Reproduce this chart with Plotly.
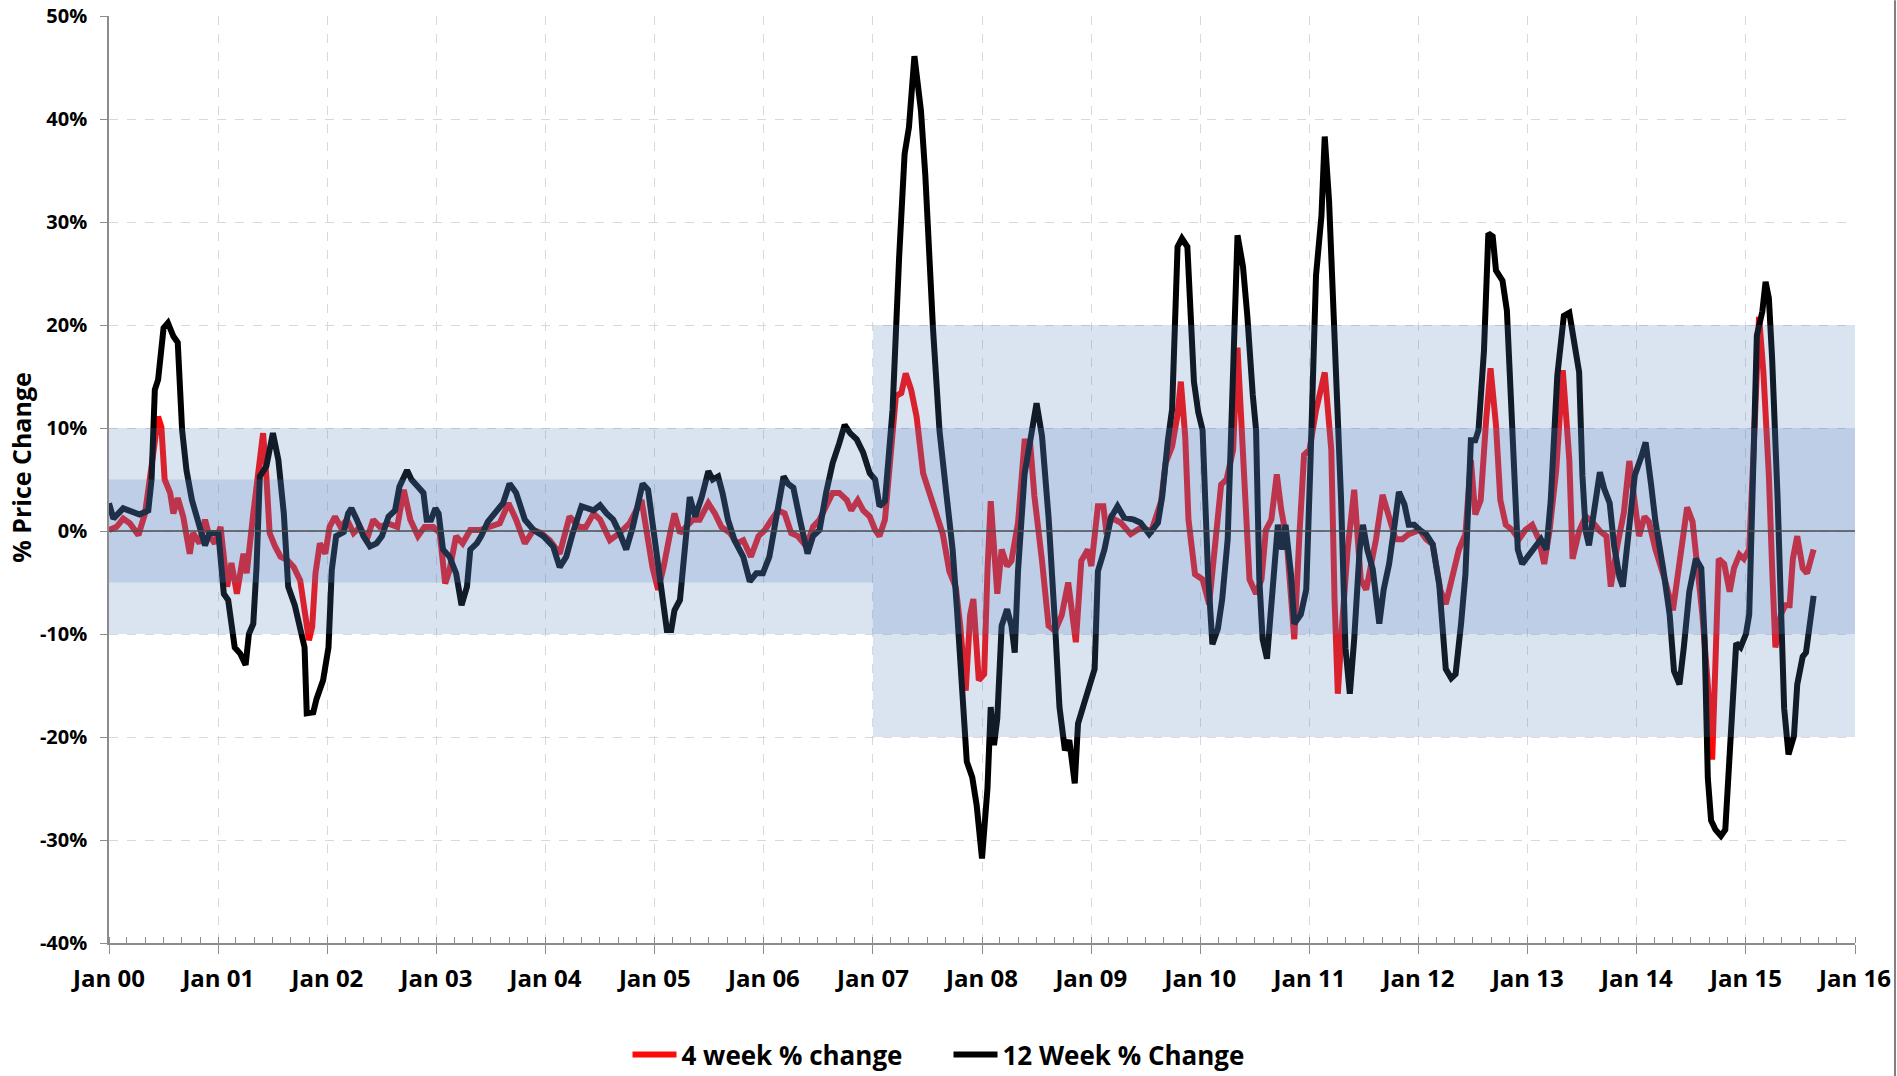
import datetime as dt
import plotly.graph_objects as go

# ---------------- data ----------------
# decimal years (2000.0 = Jan 2000) and % change values
week4_t = [0.00,0.07,0.13,0.19,0.27,0.33,0.39,0.45,0.48,0.51,0.56,0.59,0.63,0.68,0.74,0.77,0.83,0.88,0.92,0.97,
           1.02,1.08,1.12,1.17,1.23,1.26,1.32,1.37,1.41,1.44,1.47,1.52,1.57,1.63,1.69,1.75,1.79,1.83,1.86,1.89,
           1.93,1.98,2.02,2.07,2.12,2.18,2.24,2.30,2.36,2.42,2.48,2.56,2.64,2.70,2.76,2.83,2.89,2.97,3.03,3.08,
           3.12,3.18,3.24,3.31,3.40,3.49,3.58,3.66,3.73,3.81,3.89,3.96,4.04,4.13,4.22,4.31,4.37,4.44,4.50,4.59,
           4.68,4.77,4.88,4.94,4.98,5.03,5.08,5.14,5.18,5.23,5.29,5.35,5.41,5.49,5.55,5.61,5.69,5.75,5.81,5.88,
           5.95,6.01,6.07,6.13,6.19,6.25,6.31,6.39,6.45,6.51,6.57,6.63,6.69,6.76,6.80,6.86,6.91,6.97,7.02,7.06,
           7.11,7.15,7.21,7.26,7.30,7.35,7.40,7.46,7.52,7.60,7.64,7.70,7.76,7.80,7.85,7.89,7.92,7.97,8.02,8.05,
           8.08,8.14,8.18,8.23,8.27,8.33,8.39,8.44,8.48,8.55,8.61,8.67,8.73,8.79,8.82,8.86,8.91,8.97,9.00,9.06,
           9.11,9.14,9.18,9.27,9.36,9.45,9.55,9.64,9.68,9.74,9.79,9.82,9.86,9.89,9.95,10.02,10.08,10.14,10.19,10.24,
           10.30,10.34,10.40,10.45,10.51,10.56,10.60,10.65,10.70,10.74,10.79,10.83,10.86,10.91,10.95,11.00,11.06,11.14,11.20,11.23,
           11.26,11.30,11.35,11.41,11.47,11.52,11.56,11.61,11.67,11.73,11.79,11.85,11.91,12.01,12.07,12.13,12.20,12.25,12.31,12.37,
           12.43,12.48,12.52,12.57,12.62,12.66,12.71,12.75,12.80,12.86,12.92,12.98,13.04,13.10,13.15,13.20,13.26,13.32,13.38,13.41,
           13.47,13.53,13.59,13.66,13.72,13.76,13.82,13.88,13.93,13.98,14.02,14.07,14.11,14.17,14.25,14.33,14.37,14.42,14.46,14.51,
           14.56,14.60,14.65,14.69,14.72,14.75,14.80,14.85,14.89,14.94,14.98,15.03,15.07,15.12,15.16,15.21,15.24,15.27,15.32,15.36,
           15.40,15.43,15.47,15.52,15.56,15.62]
week4_v = [0.1,0.4,1.2,0.75,-0.4,1.7,6.3,11.1,10.1,5.0,3.7,1.7,3.2,1.4,-2.2,-0.2,-1.2,1.1,-0.5,-1.2,
           0.4,-5.4,-3.1,-6.1,-2.2,-4.1,1.7,5.6,9.5,5.3,-0.2,-1.5,-2.5,-2.8,-3.5,-4.8,-7.4,-10.6,-9.3,-4.1,
           -1.2,-2.2,0.4,1.4,0.4,1.1,-0.2,0.4,-0.9,1.1,0.4,0.7,0.4,4.0,1.1,-0.5,0.4,0.4,-0.2,-5.1,
           -3.8,-0.5,-1.2,0.1,0.1,0.4,0.75,2.7,1.1,-1.2,0.1,-0.2,-0.9,-2.2,1.4,0.4,0.4,1.7,1.1,-0.9,
           -0.2,0.75,3.0,-0.9,-3.5,-5.7,-3.5,-0.2,1.7,-0.2,0.4,1.1,1.1,2.7,1.7,0.4,-0.2,-1.2,-0.9,-2.5,
           -0.5,0.1,1.1,2.0,1.7,-0.2,-0.5,-1.5,0.4,1.1,2.4,3.7,3.7,3.0,2.0,3.0,2.0,1.4,0.1,-0.5,
           1.1,6.3,13.1,13.4,15.3,13.7,11.1,5.6,3.7,1.4,-0.3,-3.9,-5.5,-9.2,-15.5,-8.2,-6.6,-14.5,-13.9,-3.9,
           2.9,-6.1,-1.8,-3.4,-2.9,0.8,8.7,8.7,3.4,-2.9,-9.2,-9.7,-8.2,-5.0,-7.6,-10.8,-2.9,-1.8,-3.4,2.4,
           2.4,-0.3,1.3,0.8,-0.3,0.3,0.0,2.9,6.6,8.2,11.3,14.5,9.2,1.1,-4.2,-4.7,-7.1,-0.3,4.5,5.0,
           7.9,17.8,5.0,-4.7,-6.1,-4.7,0.1,1.1,5.5,2.1,-0.8,-6.6,-10.5,0.1,7.4,7.9,11.7,15.4,7.9,-6.6,
           -15.8,-9.0,-1.8,4.0,-4.7,-5.7,-3.7,-0.8,3.5,1.1,-0.8,-0.8,-0.3,0.1,-0.8,-1.3,-5.7,-7.1,-4.7,-1.8,
           -0.3,6.9,1.6,3.0,10.8,15.8,10.3,3.0,0.6,0.1,-0.8,0.1,0.6,-0.8,-3.2,0.1,5.9,15.6,6.9,-2.7,
           0.0,1.4,0.9,0.0,-0.5,-5.4,-1.4,1.8,6.8,3.2,-0.5,1.4,0.9,-1.8,-4.5,-7.7,-4.5,-0.5,2.3,0.9,
           -3.6,-8.1,-14.9,-22.2,-12.7,-2.7,-3.2,-5.9,-3.6,-2.3,-2.7,-1.8,7.7,20.8,15.4,5.4,-3.6,-11.3,-8.1,-7.2,
           -7.2,-2.7,-0.5,-3.6,-4.1,-1.8]

week12_t = [0.00,0.04,0.13,0.22,0.28,0.36,0.39,0.42,0.45,0.50,0.54,0.59,0.63,0.67,0.71,0.76,0.80,0.85,0.88,0.92,
            1.00,1.05,1.09,1.15,1.20,1.25,1.28,1.32,1.35,1.38,1.44,1.50,1.55,1.60,1.64,1.70,1.75,1.79,1.81,1.87,
            1.90,1.96,2.01,2.04,2.08,2.15,2.19,2.22,2.27,2.33,2.39,2.45,2.50,2.56,2.62,2.66,2.73,2.77,2.83,2.88,
            2.91,2.95,2.99,3.02,3.06,3.12,3.18,3.23,3.28,3.31,3.37,3.41,3.47,3.55,3.61,3.67,3.73,3.81,3.89,3.98,
            4.07,4.13,4.19,4.25,4.33,4.44,4.50,4.56,4.62,4.68,4.74,4.80,4.89,4.94,5.00,5.06,5.11,5.15,5.18,5.23,
            5.26,5.32,5.37,5.43,5.49,5.53,5.58,5.62,5.67,5.73,5.81,5.87,5.93,5.99,6.05,6.11,6.18,6.22,6.27,6.33,
            6.40,6.45,6.51,6.57,6.63,6.69,6.74,6.79,6.85,6.91,6.97,7.02,7.06,7.11,7.18,7.24,7.29,7.33,7.38,7.44,
            7.48,7.55,7.61,7.67,7.73,7.77,7.82,7.86,7.91,7.95,8.00,8.05,8.08,8.11,8.14,8.18,8.23,8.27,8.30,8.33,
            8.39,8.45,8.50,8.55,8.61,8.67,8.71,8.76,8.80,8.85,8.88,8.94,8.98,9.03,9.06,9.12,9.18,9.24,9.30,9.39,
            9.45,9.53,9.61,9.65,9.70,9.74,9.79,9.83,9.88,9.91,9.94,9.98,10.02,10.07,10.11,10.16,10.20,10.25,10.30,10.34,
            10.39,10.43,10.48,10.51,10.54,10.57,10.61,10.65,10.71,10.75,10.78,10.83,10.86,10.92,10.97,11.01,11.06,11.11,11.14,11.18,
            11.24,11.29,11.33,11.37,11.41,11.46,11.49,11.53,11.58,11.64,11.68,11.73,11.78,11.82,11.87,11.91,11.96,12.01,12.07,12.13,
            12.19,12.25,12.30,12.34,12.39,12.43,12.48,12.52,12.55,12.60,12.64,12.68,12.71,12.77,12.81,12.86,12.91,12.95,13.01,13.07,
            13.12,13.17,13.21,13.27,13.33,13.38,13.43,13.47,13.50,13.53,13.56,13.61,13.66,13.70,13.75,13.79,13.84,13.87,13.91,13.98,
            14.04,14.08,14.13,14.17,14.24,14.30,14.34,14.39,14.43,14.48,14.54,14.59,14.62,14.65,14.68,14.72,14.77,14.81,14.85,14.88,
            14.91,14.95,15.00,15.03,15.06,15.10,15.15,15.18,15.21,15.24,15.29,15.32,15.35,15.39,15.44,15.47,15.52,15.55,15.59,15.62]
week12_v = [2.7,1.2,2.2,1.9,1.6,2.0,5.0,13.7,14.7,19.7,20.2,18.9,18.3,9.8,5.9,3.0,1.4,-0.5,-1.4,-0.2,
            -0.2,-6.1,-6.7,-11.3,-11.9,-13.0,-10.0,-9.0,-3.5,5.3,6.3,9.5,6.9,1.7,-5.4,-7.2,-9.6,-11.3,-17.7,-17.6,
            -16.3,-14.5,-11.3,-3.8,-0.5,-0.1,1.7,2.2,1.1,-0.5,-1.5,-1.2,-0.5,1.4,2.0,4.3,5.9,5.0,4.3,3.7,
            1.1,1.1,2.2,1.7,-1.8,-2.5,-4.1,-7.2,-5.4,-1.8,-1.2,-0.5,0.9,2.0,2.7,4.6,3.7,1.1,0.1,-0.5,
            -1.5,-3.5,-2.5,-0.2,2.4,2.0,2.5,1.7,1.1,-0.2,-1.8,0.4,4.6,4.0,-0.9,-5.4,-9.6,-9.6,-7.7,-6.7,
            -3.1,3.3,1.4,3.3,5.8,5.0,5.3,3.7,1.1,-0.9,-2.5,-4.9,-4.1,-4.1,-2.5,1.1,5.3,4.6,4.2,1.1,
            -2.2,-0.5,0.1,3.7,6.6,8.5,10.3,9.5,8.9,7.6,5.6,5.0,2.4,2.9,11.8,26.6,36.6,39.2,46.1,40.8,
            34.5,19.7,9.7,3.9,-1.8,-7.6,-16.1,-22.4,-23.9,-26.6,-31.8,-25.0,-17.1,-20.8,-18.2,-9.2,-7.6,-9.2,-11.8,-3.9,
            5.5,9.7,12.4,9.2,1.3,-9.2,-17.1,-21.3,-20.3,-24.5,-18.7,-16.6,-15.0,-13.4,-3.9,-1.8,1.3,2.4,1.3,1.1,
            0.8,-0.3,0.8,3.4,8.7,11.8,27.6,28.4,27.6,19.2,14.5,11.5,9.8,-4.2,-11.0,-9.5,-6.6,-0.8,14.6,28.7,
            25.7,20.9,13.2,9.8,-4.7,-10.5,-12.4,-6.6,0.6,-1.8,0.6,-4.2,-9.0,-8.1,-5.7,6.9,24.8,30.6,38.3,32.0,
            17.5,3.0,-11.4,-15.8,-10.5,-1.8,0.6,-1.8,-3.7,-9.0,-5.7,-3.2,0.6,3.8,2.6,0.6,0.6,0.1,-0.3,-1.3,
            -5.2,-13.4,-14.3,-13.9,-9.0,-4.2,8.8,8.8,9.8,17.5,28.9,28.6,25.3,24.3,21.4,10.3,-1.8,-3.2,-2.3,-1.3,
            -0.8,-1.8,3.0,15.1,20.9,21.2,18.1,15.4,5.4,0.0,-1.4,1.8,5.7,4.1,2.7,-1.4,-4.5,-5.4,-1.4,5.4,
            7.2,8.6,4.5,0.9,-3.6,-8.1,-13.6,-14.9,-11.3,-5.9,-2.7,-3.6,-10.4,-24.0,-28.1,-29.0,-29.6,-29.0,-21.7,-16.3,
            -10.9,-11.3,-10.0,-8.1,5.4,19.0,21.3,24.2,22.6,16.7,3.2,-8.1,-17.2,-21.7,-19.9,-14.9,-12.2,-11.8,-8.6,-6.3]

# shaded volatility bands: (start, end, outer half-width %, inner half-width %)
band_start = ["2000-01-01", "2007-01-01"]
band_end = ["2007-01-01", "2016-01-01"]
band_outer = [10, 20]
band_inner = [5, 10]

y_ticks = [-40, -30, -20, -10, 0, 10, 20, 30, 40, 50]
y_tick_labels = [f"{v}%" for v in y_ticks]


def to_date(t):
    year = 2000 + int(t)
    start = dt.datetime(year, 1, 1)
    return start + dt.timedelta(days=(t - int(t)) * 365.25)


FONT = "Open Sans, Lato, sans-serif"

fig = go.Figure()
fig.add_trace(go.Scatter(
    x=[to_date(t) for t in week4_t], y=week4_v, mode="lines",
    name="4 week % change", line=dict(color="#ff0a0a", width=6)))
fig.add_trace(go.Scatter(
    x=[to_date(t) for t in week12_t], y=week12_v, mode="lines",
    name="12 Week % Change", line=dict(color="#000000", width=6)))

band_fill = "rgba(79,129,189,0.21)"
for s, e, o, i in zip(band_start, band_end, band_outer, band_inner):
    for h in (o, i):
        fig.add_shape(type="rect", xref="x", yref="y", x0=s, x1=e, y0=-h, y1=h,
                      fillcolor=band_fill, line=dict(width=0), layer="above")

# zero line
fig.add_shape(type="line", xref="paper", yref="y", x0=0, x1=1, y0=0, y1=0,
              line=dict(color="#4d4d4d", width=1.3), layer="above")
# outer chart border (right)
fig.add_shape(type="line", xref="paper", yref="paper", x0=1.0229, x1=1.0229, y0=-0.1435, y1=1.017,
              line=dict(color="#7f7f7f", width=2))

fig.add_annotation(text="<b>% Price Change</b>", xref="paper", yref="paper",
                   x=-0.0505, y=0.5135, xanchor="center", yanchor="middle",
                   textangle=-90, showarrow=False,
                   font=dict(family=FONT, size=25, color="#000000"))

fig.update_layout(
    width=1897, height=1076,
    margin=dict(l=109, r=42, t=16, b=133, autoexpand=False),
    paper_bgcolor="white", plot_bgcolor="white",
    font=dict(family=FONT, color="#000000"),
    showlegend=True,
    legend=dict(orientation="h", xref="container", yref="container",
                x=0.5, xanchor="center", y=0.02, yanchor="middle",
                font=dict(family=FONT, size=26, weight="bold"),
                itemwidth=44, tracegroupgap=0,
                entrywidth=262, entrywidthmode="pixels"),
    xaxis=dict(
        type="date", range=["2000-01-01", "2016-01-01"], automargin=False,
        tickformat="%b %y", dtick="M12", tick0="2000-01-01",
        ticks="outside", ticklen=9, tickcolor="#8c8c8c",
        ticklabelstandoff=4, ticklabeloverflow="allow",
        tickfont=dict(family=FONT, size=24, weight="bold"),
        showgrid=True, gridcolor="#d9d9d9", griddash="dash", gridwidth=1,
        showline=True, linecolor="#8c8c8c", linewidth=1.5,
        minor=dict(dtick="M2", ticks="inside", ticklen=6, tickcolor="#8c8c8c", showgrid=False),
        zeroline=False,
    ),
    yaxis=dict(
        range=[-40, 50], tickvals=y_ticks, ticktext=y_tick_labels, automargin=False,
        ticks="outside", ticklen=7, tickcolor="#8c8c8c",
        ticklabelstandoff=9, ticklabeloverflow="allow",
        tickfont=dict(family=FONT, size=20, weight="bold"),
        showgrid=True, gridcolor="#d9d9d9", griddash="dash", gridwidth=1,
        showline=True, linecolor="#8c8c8c", linewidth=1.5,
        zeroline=False,
    ),
)

# remove the browser's default 8px body margin so the figure fills the window exactly
fig.write_html("out.html", config={"displayModeBar": False},
               post_script="document.body.style.margin='0';")
